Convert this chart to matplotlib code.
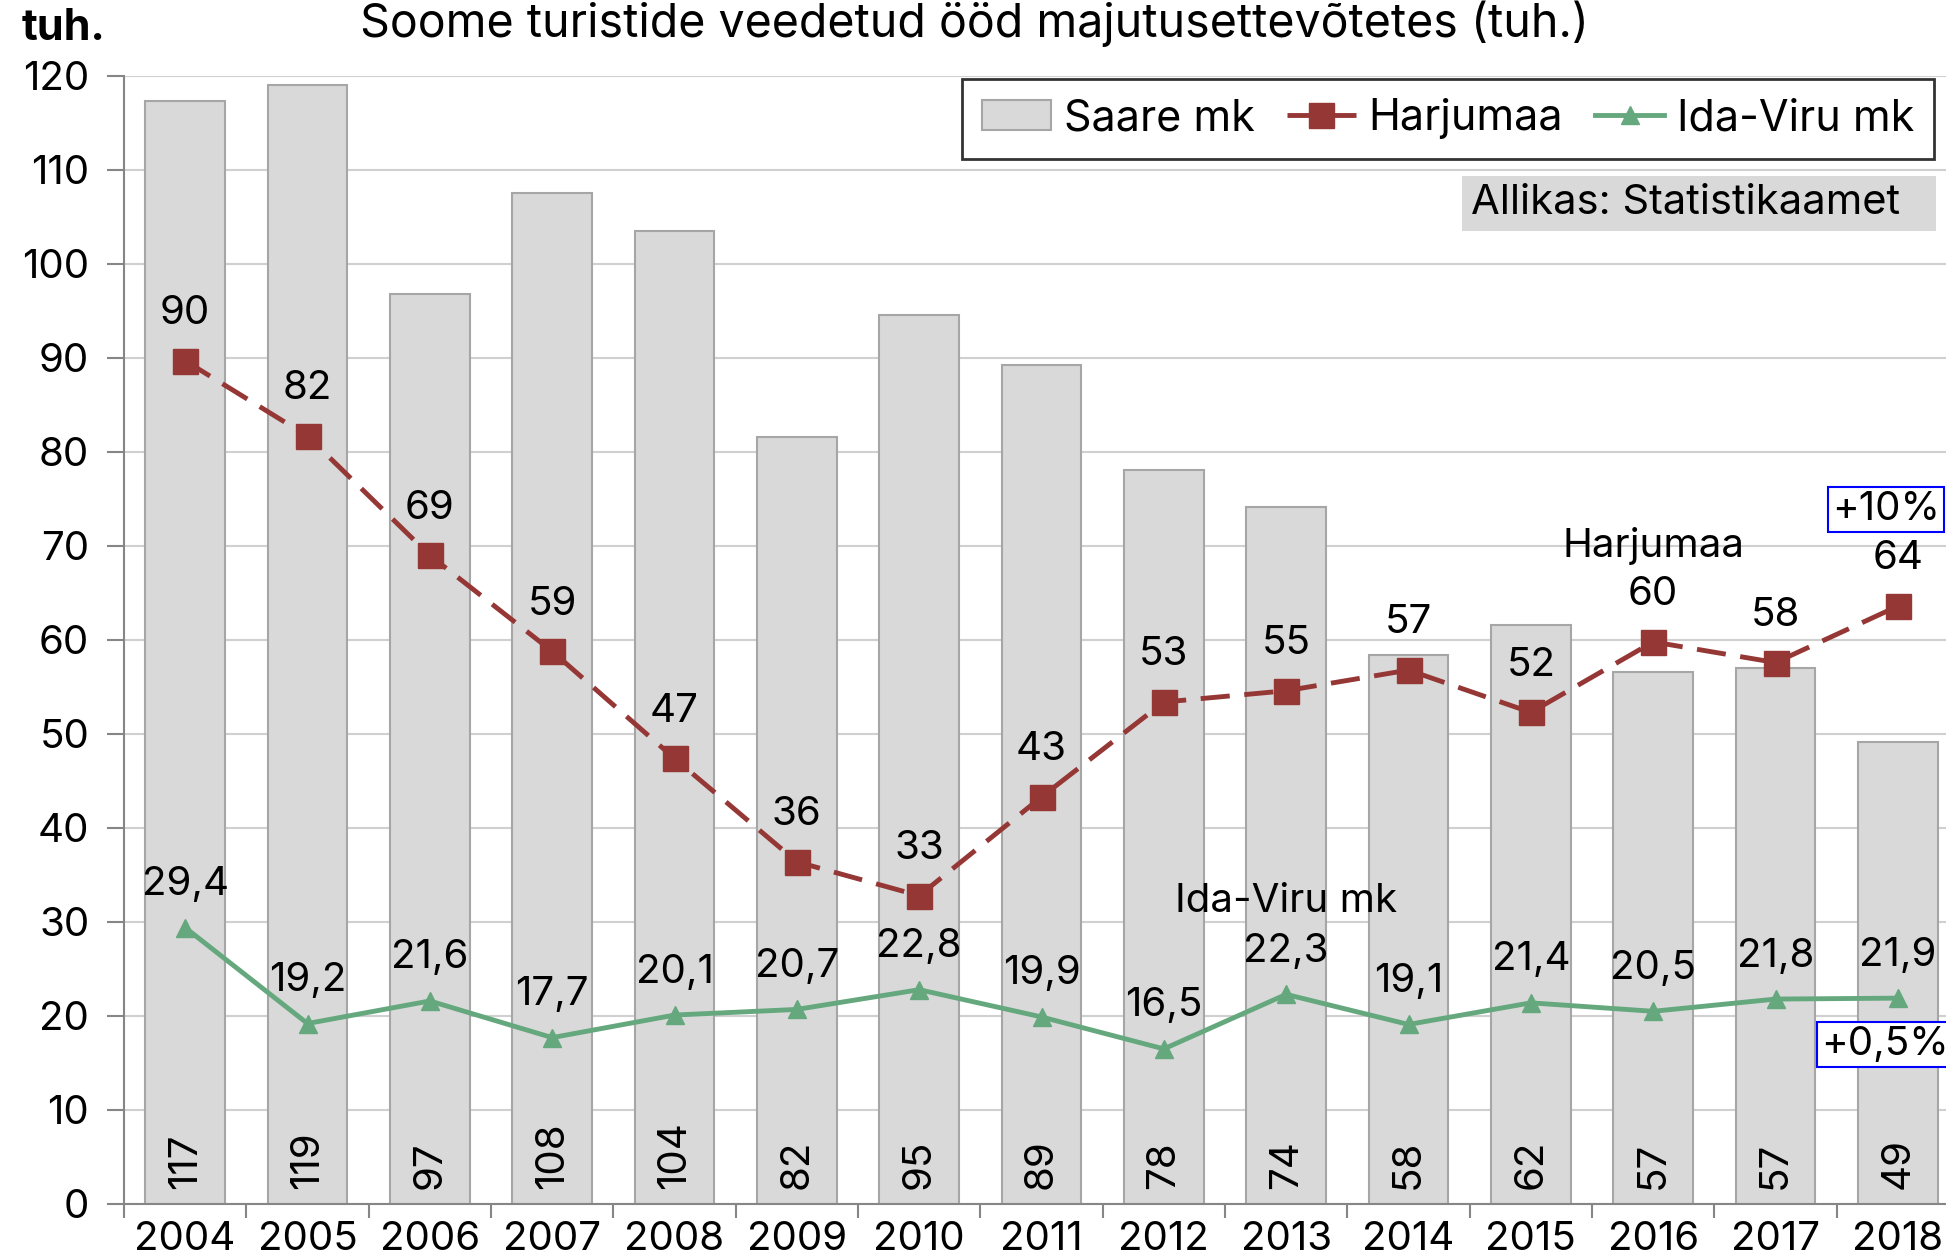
import numpy as np
from matplotlib import pyplot as plt
from matplotlib.patches import Patch, Rectangle
from matplotlib.lines import Line2D

plt.rcParams['font.family'] = ['Inter', 'DejaVu Sans']
plt.rcParams['font.size'] = 26

#data
years = ['2004', '2005', '2006', '2007', '2008', '2009', '2010', '2011',
         '2012', '2013', '2014', '2015', '2016', '2017', '2018']
saare = [117.3, 119.0, 96.8, 107.6, 103.5, 81.6, 94.6, 89.3, 78.1, 74.1, 58.4, 61.6, 56.6, 57.0, 49.1]
harju = [89.7, 81.7, 69.0, 58.8, 47.4, 36.4, 32.8, 43.3, 53.4, 54.6, 56.8, 52.3, 59.8, 57.6, 63.6]
idaviru = [29.4, 19.2, 21.6, 17.7, 20.1, 20.7, 22.8, 19.9, 16.5, 22.3, 19.1, 21.4, 20.5, 21.8, 21.9]

c_bar = '#D9D9D9'
c_red = '#953735'
c_green = '#65A87E'
fs = 29

fig = plt.figure(figsize=(19.46, 12.59), dpi=100)
ax = fig.add_axes([124/1946, 55/1259, 1835/1946, 1128/1259])
x = np.arange(len(years))

ax.bar(x, saare, width=0.65, color=c_bar, edgecolor='#A6A6A6', linewidth=1.5, zorder=2)
ax.plot(x, harju, color=c_red, lw=3.5, dashes=(6, 3), marker='s', ms=18, zorder=4)
ax.plot(x, idaviru, color=c_green, lw=3.5, marker='^', ms=13, zorder=4)

for i in range(len(x)):
    ax.text(x[i], 1.6, '%.0f' % saare[i], rotation=90, ha='center', va='bottom', fontsize=fs, zorder=5)
    ax.annotate('%.0f' % harju[i], (x[i], harju[i]), xytext=(0, 34), textcoords='offset points',
                ha='center', va='center', fontsize=fs, zorder=5)
    ax.annotate(('%.1f' % idaviru[i]).replace('.', ','), (x[i], idaviru[i]), xytext=(0, 31),
                textcoords='offset points', ha='center', va='center', fontsize=fs, zorder=5)

ax.set_xlim(-0.5, 14.5)
ax.set_ylim(0, 120)
ax.set_yticks(range(0, 121, 10))
ax.set_xticks(x)
ax.set_xticklabels(years)
ax.set_xticks(np.arange(-0.5, 15, 1), minor=True)
ax.tick_params(axis='x', which='major', length=0, labelsize=fs, pad=12)
ax.tick_params(axis='x', which='minor', length=10, width=1.5, color='#868686')
ax.tick_params(axis='y', length=12, width=1.5, color='#868686', labelsize=fs, pad=13)
ax.grid(axis='y', color='#D0D0D0', lw=1.5, zorder=0)
ax.set_axisbelow(True)
for s in ['top', 'right']:
    ax.spines[s].set_visible(False)
for s in ['left', 'bottom']:
    ax.spines[s].set_color('#868686')
    ax.spines[s].set_linewidth(1.5)

fig.text(785/1568, 1 - 19/1014, 'Soome turistide veedetud ööd majutusettevõtetes (tuh.)',
         ha='center', va='center', fontsize=33.5)
fig.text(22/1946, 1 - 28/1259, 'tuh.', ha='left', va='center', fontsize=31, fontweight='bold')

handles = [Patch(facecolor=c_bar, edgecolor='#A6A6A6', lw=1.5),
           Line2D([], [], color=c_red, lw=3.5, dashes=(6, 3), marker='s', ms=18),
           Line2D([], [], color=c_green, lw=3.5, marker='^', ms=13)]
leg = ax.legend(handles, ['Saare mk', 'Harjumaa', 'Ida-Viru mk'], loc='upper right',
                bbox_to_anchor=(1934/1946, 1 - 79/1259), bbox_transform=fig.transFigure,
                borderaxespad=0, ncol=3, frameon=True, fancybox=False, edgecolor='black', fontsize=31,
                handlelength=1.6, columnspacing=0.75, handletextpad=0.3, borderpad=0.45)
leg.get_frame().set_linewidth(2)

fig.patches.append(Rectangle((1462/1946, 1 - 231/1259), 474/1946, 55/1259, transform=fig.transFigure,
                             facecolor=c_bar, edgecolor='none'))
fig.text(1471/1946, 1 - 203/1259, 'Allikas: Statistikaamet', ha='left', va='center', fontsize=30)

ax.text(12, 70, 'Harjumaa', ha='center', va='center', fontsize=fs)
ax.text(9, 32.2, 'Ida-Viru mk', ha='center', va='center', fontsize=fs)
ax.text(1476/1568, 1 - 410/1014, '+10%', transform=fig.transFigure, ha='left', va='center', fontsize=fs,
        bbox=dict(facecolor='white', edgecolor='blue', lw=1.5, pad=3))
ax.text(1467/1568, 1 - 841/1014, '+0,5%', transform=fig.transFigure, ha='left', va='center', fontsize=fs,
        bbox=dict(facecolor='white', edgecolor='blue', lw=1.5, pad=3), zorder=6)

plt.savefig('out.png', dpi=100)
